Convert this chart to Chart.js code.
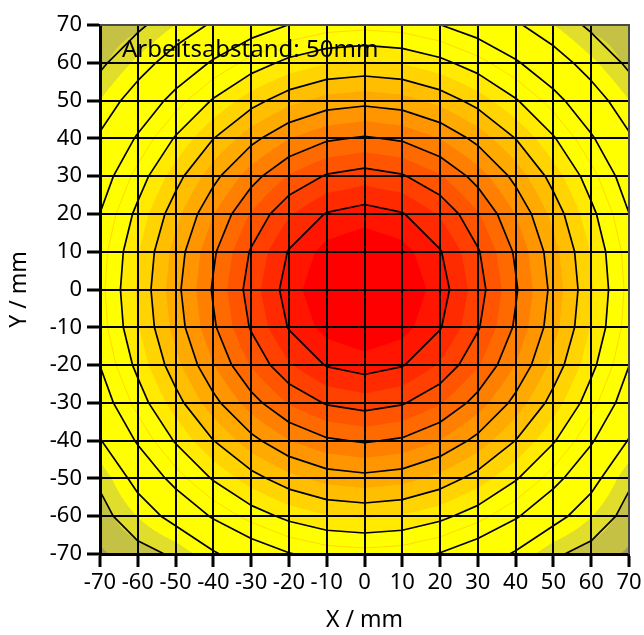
<!DOCTYPE html>
<html>
<head>
<meta charset="utf-8">
<script src="https://cdn.jsdelivr.net/npm/chart.js@4.4.0/dist/chart.umd.min.js"></script>
<style>
  html, body { margin: 0; padding: 0; background: #fff; }
  #wrap { width: 644px; height: 635px; }
</style>
</head>
<body>
<div id="wrap"><canvas id="c" width="644" height="635"></canvas></div>
<script>
// Messgitter (mm)
const xWerte = [-70, -60, -50, -40, -30, -20, -10, 0, 10, 20, 30, 40, 50, 60, 70];
const yWerte = [70, 60, 50, 40, 30, 20, 10, 0, -10, -20, -30, -40, -50, -60, -70];

// Intensität an den Gitterpunkten, Zeilen von oben (y=70) nach unten (y=-70)
const intensitaet = [
  [ 5.6,  8.4, 15.1, 21.1, 26.2, 30.1, 32.6,  33.4, 32.6, 30.1, 26.2, 21.1, 15.1,  8.4,  5.6],
  [ 8.4, 16.4, 24.0, 30.9, 36.9, 41.6, 44.6,  45.6, 44.6, 41.6, 36.9, 30.9, 24.0, 16.4,  8.4],
  [15.1, 24.0, 32.6, 40.6, 47.7, 53.3, 56.9,  58.2, 56.9, 53.3, 47.7, 40.6, 32.6, 24.0, 15.1],
  [21.1, 30.9, 40.6, 49.9, 58.2, 64.8, 69.1,  70.7, 69.1, 64.8, 58.2, 49.9, 40.6, 30.9, 21.1],
  [26.2, 36.9, 47.7, 58.2, 67.7, 75.5, 80.6,  82.5, 80.6, 75.5, 67.7, 58.2, 47.7, 36.9, 26.2],
  [30.1, 41.6, 53.3, 64.8, 75.5, 84.4, 90.4,  92.5, 90.4, 84.4, 75.5, 64.8, 53.3, 41.6, 30.1],
  [32.6, 44.6, 56.9, 69.1, 80.6, 90.4, 97.0,  99.4, 97.0, 90.4, 80.6, 69.1, 56.9, 44.6, 32.6],
  [33.4, 45.6, 58.2, 70.7, 82.5, 92.5, 99.4, 101.9, 99.4, 92.5, 82.5, 70.7, 58.2, 45.6, 33.4],
  [32.6, 44.6, 56.9, 69.1, 80.6, 90.4, 97.0,  99.4, 97.0, 90.4, 80.6, 69.1, 56.9, 44.6, 32.6],
  [30.1, 41.6, 53.3, 64.8, 75.5, 84.4, 90.4,  92.5, 90.4, 84.4, 75.5, 64.8, 53.3, 41.6, 30.1],
  [26.2, 36.9, 47.7, 58.2, 67.7, 75.5, 80.6,  82.5, 80.6, 75.5, 67.7, 58.2, 47.7, 36.9, 26.2],
  [19.5, 30.9, 40.6, 49.9, 58.2, 64.8, 69.1,  70.7, 69.1, 64.8, 58.2, 49.9, 40.6, 30.9, 19.5],
  [11.4, 23.0, 32.6, 40.6, 47.7, 53.3, 56.9,  58.2, 56.9, 53.3, 47.7, 40.6, 32.6, 23.0, 11.4],
  [ 7.2, 15.2, 23.0, 30.9, 36.9, 41.6, 44.6,  45.6, 44.6, 41.6, 36.9, 30.9, 23.0, 15.2,  7.2],
  [ 4.3,  7.2, 11.2, 19.0, 25.2, 29.6, 32.2,  33.0, 32.2, 29.6, 25.2, 19.0, 11.2,  7.2,  4.3]
];

// Füllstufen und Farben (farben[0] = unter der ersten Stufe)
const stufen = [5, 10, 15, 20, 25, 30, 35, 40, 45, 50, 55, 60, 65, 70, 75, 80, 85, 90, 95];
const farben = ['#a19c5f', '#c5c145', '#e1dd2b', '#ffff00', '#ffff00', '#ffff00', '#ffff00', '#ffff00',
                '#ffea00', '#ffd400', '#ffbf00', '#ffaa00', '#ff9500', '#ff7f00', '#ff6a00',
                '#ff5500', '#ff4000', '#ff2a00', '#ff1500', '#ff0000'];
// schwarze Isolinien
const linienStufen = [10, 20, 30, 40, 50, 60, 70, 80, 90];
// feine Naht im Gelbbereich
const nahtStufen = [35];

const achsenTicks = [-70, -60, -50, -40, -30, -20, -10, 0, 10, 20, 30, 40, 50, 60, 70];
const titel = 'Arbeitsabstand: 50mm';

const SCHRIFT = '"Noto Sans", "DejaVu Sans", sans-serif';
const TEIL = 10; // Unterteilung je Zelle für die Füllflächen

// Polygon auf z >= lo beschneiden
function beschneide(poly, lo) {
  const out = [];
  for (let i = 0; i < poly.length; i++) {
    const p = poly[i], q = poly[(i + 1) % poly.length];
    const pin = p[2] >= lo, qin = q[2] >= lo;
    if (pin) out.push(p);
    if (pin !== qin) {
      const t = (lo - p[2]) / (q[2] - p[2]);
      out.push([p[0] + t * (q[0] - p[0]), p[1] + t * (q[1] - p[1]), lo]);
    }
  }
  return out;
}

function polyPfad(ctx, poly) {
  if (poly.length < 3) return;
  ctx.moveTo(poly[0][0], poly[0][1]);
  for (let i = 1; i < poly.length; i++) ctx.lineTo(poly[i][0], poly[i][1]);
  ctx.closePath();
}

// Isolinien (marching squares) auf dem Messgitter in den aktuellen Pfad legen
function isolinien(ctx, px, py, stufenListe) {
  stufenListe.forEach(L => {
    for (let j = 0; j < yWerte.length - 1; j++) {
      for (let i = 0; i < xWerte.length - 1; i++) {
        const ecken = [
          [px[i], py[j], intensitaet[j][i]],
          [px[i + 1], py[j], intensitaet[j][i + 1]],
          [px[i + 1], py[j + 1], intensitaet[j + 1][i + 1]],
          [px[i], py[j + 1], intensitaet[j + 1][i]]
        ];
        const pkt = [];
        for (let e = 0; e < 4; e++) {
          const p = ecken[e], q = ecken[(e + 1) % 4];
          if ((p[2] >= L) !== (q[2] >= L)) {
            const t = (L - p[2]) / (q[2] - p[2]);
            pkt.push([p[0] + t * (q[0] - p[0]), p[1] + t * (q[1] - p[1])]);
          }
        }
        if (pkt.length === 2) {
          ctx.moveTo(pkt[0][0], pkt[0][1]); ctx.lineTo(pkt[1][0], pkt[1][1]);
        } else if (pkt.length === 4) {
          const mitte = (ecken[0][2] + ecken[1][2] + ecken[2][2] + ecken[3][2]) / 4;
          const paare = ((mitte >= L) === (ecken[0][2] >= L)) ? [[0, 1], [2, 3]] : [[3, 0], [1, 2]];
          paare.forEach(([m, n]) => { ctx.moveTo(pkt[m][0], pkt[m][1]); ctx.lineTo(pkt[n][0], pkt[n][1]); });
        }
      }
    }
  });
}

const konturPlugin = {
  id: 'kontur',
  beforeDraw(chart) {
    const { ctx, chartArea: a, scales: { x, y } } = chart;
    const px = xWerte.map(v => x.getPixelForValue(v));
    const py = yWerte.map(v => y.getPixelForValue(v));
    ctx.save();
    ctx.beginPath();
    ctx.rect(a.left, a.top, a.right - a.left, a.bottom - a.top);
    ctx.clip();
    ctx.fillStyle = farben[0];
    ctx.fillRect(a.left, a.top, a.right - a.left, a.bottom - a.top);

    stufen.forEach((lo, k) => {
      ctx.beginPath();
      for (let j = 0; j < yWerte.length - 1; j++) {
        for (let i = 0; i < xWerte.length - 1; i++) {
          const z00 = intensitaet[j][i], z10 = intensitaet[j][i + 1];
          const z01 = intensitaet[j + 1][i], z11 = intensitaet[j + 1][i + 1];
          const mn = Math.min(z00, z10, z01, z11), mx = Math.max(z00, z10, z01, z11);
          if (mx < lo) continue;
          const x0 = px[i], x1 = px[i + 1], y0 = py[j], y1 = py[j + 1];
          if (mn >= lo) { ctx.rect(x0, y0, x1 - x0, y1 - y0); continue; }
          const bil = (u, v) => z00 * (1 - u) * (1 - v) + z10 * u * (1 - v) + z01 * (1 - u) * v + z11 * u * v;
          for (let b = 0; b < TEIL; b++) {
            for (let c = 0; c < TEIL; c++) {
              const u0 = c / TEIL, u1 = (c + 1) / TEIL, v0 = b / TEIL, v1 = (b + 1) / TEIL;
              const sx0 = x0 + (x1 - x0) * u0, sx1 = x0 + (x1 - x0) * u1;
              const sy0 = y0 + (y1 - y0) * v0, sy1 = y0 + (y1 - y0) * v1;
              const tl = [sx0, sy0, bil(u0, v0)], tr = [sx1, sy0, bil(u1, v0)];
              const br = [sx1, sy1, bil(u1, v1)], bl = [sx0, sy1, bil(u0, v1)];
              const smn = Math.min(tl[2], tr[2], br[2], bl[2]);
              const smx = Math.max(tl[2], tr[2], br[2], bl[2]);
              if (smx < lo) continue;
              if (smn >= lo) { ctx.rect(sx0, sy0, sx1 - sx0, sy1 - sy0); continue; }
              polyPfad(ctx, beschneide([tl, tr, br], lo));
              polyPfad(ctx, beschneide([tl, br, bl], lo));
            }
          }
        }
      }
      ctx.fillStyle = farben[k + 1];
      ctx.fill();
    });

    // feine orange Naht
    ctx.beginPath();
    isolinien(ctx, px, py, nahtStufen);
    ctx.strokeStyle = 'rgba(255,150,0,0.45)';
    ctx.lineWidth = 0.8;
    ctx.stroke();
    ctx.restore();
  },
  afterDatasetsDraw(chart) {
    const { ctx, chartArea: a, scales: { x, y } } = chart;
    const px = xWerte.map(v => x.getPixelForValue(v));
    const py = yWerte.map(v => y.getPixelForValue(v));
    ctx.save();
    ctx.beginPath();
    ctx.rect(a.left, a.top, a.right - a.left, a.bottom - a.top);
    ctx.clip();
    ctx.beginPath();
    isolinien(ctx, px, py, linienStufen);
    ctx.strokeStyle = '#000';
    ctx.lineWidth = 1.7;
    ctx.lineCap = 'round';
    ctx.stroke();
    ctx.restore();
  },
  afterDraw(chart) {
    const { ctx, chartArea: a } = chart;
    ctx.save();
    // oberer und rechter Rahmen
    ctx.strokeStyle = '#4a4a4a';
    ctx.lineWidth = 2;
    ctx.beginPath();
    ctx.moveTo(a.left, a.top); ctx.lineTo(a.right, a.top); ctx.lineTo(a.right, a.bottom);
    ctx.stroke();
    // Beschriftung im Diagramm
    ctx.fillStyle = '#000';
    ctx.font = '24px ' + SCHRIFT;
    ctx.textBaseline = 'alphabetic';
    ctx.fillText(titel, a.left + 22, a.top + 32);
    ctx.restore();
  }
};

const knoten = [];
yWerte.forEach((yv, j) => xWerte.forEach((xv, i) => knoten.push({ x: xv, y: yv, v: intensitaet[j][i] })));

const achse = (titelText) => ({
  type: 'linear',
  min: -70,
  max: 70,
  afterBuildTicks: s => { s.ticks = achsenTicks.map(v => ({ value: v })); },
  grid: { color: '#000', lineWidth: 2, drawTicks: true, tickLength: 13, tickWidth: 3, tickColor: '#000' },
  border: { color: '#000', width: 3 },
  ticks: { color: '#000', font: { family: SCHRIFT, size: 22 }, padding: 3, autoSkip: false, maxRotation: 0 },
  title: { display: true, text: titelText, color: '#000', font: { family: SCHRIFT, size: 23 } }
});

const xAchse = achse('X / mm');
xAchse.title.padding = { top: 0, bottom: 1 };
xAchse.afterFit = s => { s.height = 81; s.paddingLeft = 0; s.paddingRight = 0; };
const yAchse = achse('Y / mm');
yAchse.ticks.padding = 5;
yAchse.title.padding = { top: 6, bottom: 0 };
yAchse.afterFit = s => { s.width = 100; s.paddingTop = 0; s.paddingBottom = 0; };

new Chart(document.getElementById('c'), {
  type: 'scatter',
  data: { datasets: [{ data: knoten, pointRadius: 0, showLine: false }] },
  options: {
    responsive: false,
    animation: false,
    layout: { padding: { top: 25, right: 15, left: 0, bottom: 0 } },
    plugins: { legend: { display: false }, tooltip: { enabled: false } },
    scales: { x: xAchse, y: yAchse }
  },
  plugins: [konturPlugin]
});
</script>
</body>
</html>
